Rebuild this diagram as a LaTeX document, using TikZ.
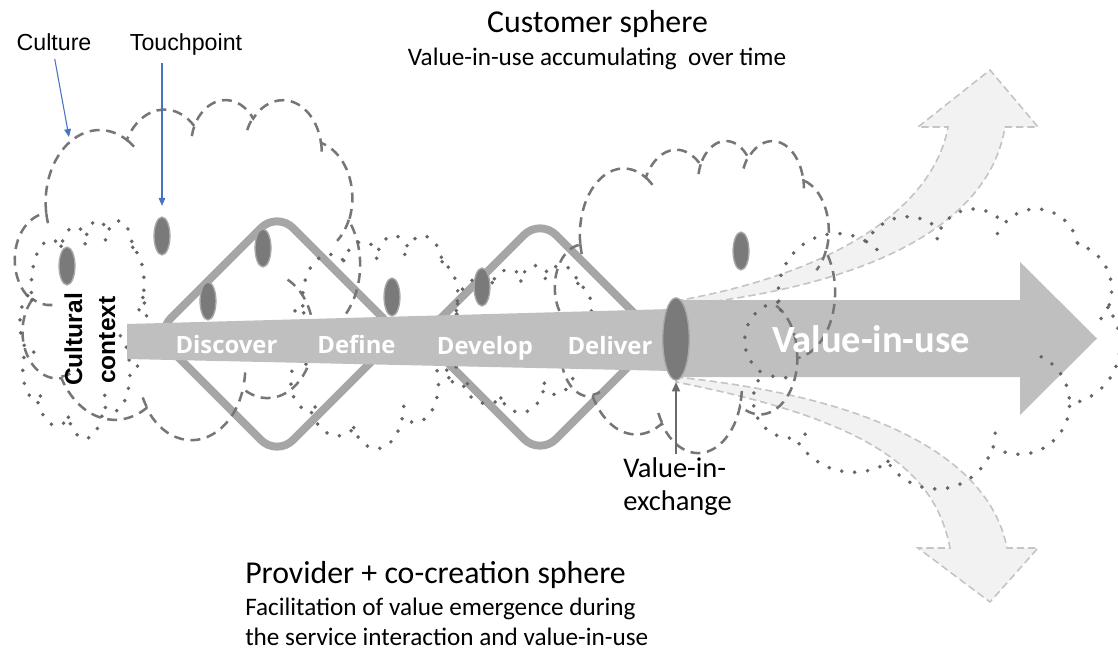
\documentclass[tikz,border=0pt]{standalone}
\usepackage{fontspec}
\setmainfont{Carlito}
\newfontfamily\arialfont{Liberation Sans}
\newfontfamily\stepfont{Open Sans}
\usetikzlibrary{arrows.meta,shapes.geometric}

\definecolor{barfill}{HTML}{BFBFBF}
\definecolor{fanfill}{HTML}{F2F2F2}
\definecolor{fanedge}{HTML}{C4C4C4}
\definecolor{diamgray}{HTML}{A6A6A6}
\definecolor{cloudgray}{HTML}{767676}
\definecolor{dotgray}{HTML}{666666}
\definecolor{tpfill}{HTML}{7A7A7A}
\definecolor{tpedge}{HTML}{A8A8A8}
\definecolor{bluearrow}{HTML}{4472C4}
\definecolor{vixgray}{HTML}{6A6A6A}

% Cloud outline in a 100 x 100 box: eleven elliptic lobes
\newcommand\cloudoutline{(9.028,33.264)
  arc[start angle=172.25,delta angle=128.12,x radius=15.632,y radius=21.273]
  arc[start angle=-152.03,delta angle=106.57,x radius=12.345,y radius=16.822]
  arc[start angle=-153.49,delta angle=116.17,x radius=10.104,y radius=13.762]
  arc[start angle=-139.71,delta angle=129.50,x radius=11.243,y radius=15.266]
  arc[start angle=-74.77,delta angle=97.98,x radius=12.345,y radius=16.836]
  arc[start angle=-37.53,delta angle=119.39,x radius=15.683,y radius=21.343]
  arc[start angle=0.46,delta angle=121.52,x radius=13.391,y radius=18.211]
  arc[start angle=16.85,delta angle=129.38,x radius=15.630,y radius=21.331]
  arc[start angle=58.99,delta angle=91.19,x radius=17.870,y radius=24.405]
  arc[start angle=83.31,delta angle=139.80,x radius=10.093,y radius=13.699]
  arc[start angle=120.36,delta angle=143.75,x radius=10.058,y radius=13.762]
  -- cycle}
% Short inner arcs where neighbouring lobes meet
\newcommand\cloudinner{
  (10.863,60.595) arc[start angle=85.55,delta angle=34.81,x radius=10.058,y radius=13.762]
  (16.037,80.785) arc[start angle=68.24,delta angle=15.06,x radius=10.093,y radius=13.699]
  (38.144,90.486) arc[start angle=146.23,delta angle=12.24,x radius=15.630,y radius=21.331]
  (66.729,80.442) arc[start angle=4.74,delta angle=12.11,x radius=15.630,y radius=21.331]
  (79.002,53.134) arc[start angle=-64.03,delta angle=64.49,x radius=13.391,y radius=18.211]
  (96.755,35.542) arc[start angle=23.21,delta angle=26.42,x radius=12.345,y radius=16.836]
  (88.713,12.560) arc[start angle=-10.21,delta angle=11.03,x radius=11.243,y radius=15.266]
  (67.310,9.148) arc[start angle=-156.28,delta angle=16.57,x radius=11.243,y radius=15.266]
  (51.252,10.926) arc[start angle=-167.73,delta angle=14.24,x radius=10.104,y radius=13.762]
  (32.407,12.019) arc[start angle=-59.63,delta angle=13.88,x radius=15.632,y radius=21.273]
  (9.553,36.549) arc[start angle=163.19,delta angle=9.06,x radius=15.632,y radius=21.273]}
% #1 style, #2 #3 top left corner, #4 #5 hundredth of width / height in cm
\newcommand\drawcloud[5]{%
  \begin{scope}[shift={(#2,#3)},x=#4cm,y=-#5cm]
    \draw[#1] \cloudoutline;
    \draw[#1] \cloudinner;
  \end{scope}}

\begin{document}
\begin{tikzpicture}[x=0.0265cm,y=-0.0265cm,
  dashcloud/.style={draw=cloudgray,line width=1.9pt,dash pattern=on 7.5pt off 5pt},
  dotcloud/.style={draw=dotgray,line width=3pt,line cap=round,dash pattern=on 0pt off 9.8pt},
  diamondline/.style={draw=diamgray,line width=6pt,rounded corners=17pt},
  fan/.style={fill=fanfill,draw=fanedge,line width=1.2pt,dash pattern=on 5.5pt off 3pt},
  tpoint/.style={ellipse,fill=tpfill,draw=tpedge,line width=1pt,minimum width=12pt,minimum height=28.5pt,inner sep=0pt},
  bluearr/.style={draw=bluearrow,line width=0.8pt,-{Triangle[width=5pt,length=6pt]}},
  vixarr/.style={draw=vixgray,line width=1.4pt,-{Triangle[width=6pt,length=7pt]}},
  notelabel/.style={font={\arialfont\fontsize{17.5}{20}\selectfont},anchor=base},
  stagelabel/.style={font={\stepfont\bfseries\fontsize{18}{21}\selectfont},text=white,anchor=base,inner sep=0pt},
  ctxlabel/.style={font={\arialfont\bfseries\fontsize{18.5}{22}\selectfont},rotate=90,anchor=base west,inner sep=0pt},
  headline/.style={font={\fontsize{24}{29}\selectfont},inner sep=0pt},
  subline/.style={font={\fontsize{19}{23}\selectfont},inner sep=0pt}]
\useasboundingbox (0,0) rectangle (1118,660);

% value-in-use spreading up and down
\path[fan] (676,301) .. controls (850,270) and (935,200) .. (948,127)
  -- (918,127) -- (990,70) -- (1038,127) -- (1005,127)
  .. controls (990,220) and (880,285) .. (676,306) -- cycle;
\path[fan] (676,377) .. controls (880,398) and (990,460) .. (1007,548)
  -- (1038,548) -- (990,602) -- (918,548) -- (950,548)
  .. controls (935,470) and (870,420) .. (676,382) -- cycle;

% value-in-use arrow
\fill[barfill] (676,300) -- (1020,300) -- (1020,262) -- (1097,338.5)
  -- (1020,415) -- (1020,377) -- (676,377) -- cycle;

% double diamond
\draw[diamondline] (155,334) -- (277,212) -- (399,334) -- (277,456) -- cycle;
\draw[diamondline] (422,337) -- (540,219) -- (658,337) -- (540,455) -- cycle;

% culture and context clouds
\drawcloud{dashcloud}{15}{99}{0.091425}{0.0901}
\drawcloud{dashcloud}{555}{140}{0.0742}{0.08268}
\drawcloud{dotcloud}{20}{220}{0.033655}{0.05777}
\drawcloud{dotcloud}{287}{235}{0.046375}{0.056445}
\drawcloud{dotcloud}{443}{265}{0.04028}{0.038955}
\drawcloud{dotcloud}{745}{208}{0.099375}{0.0742}

% service process bar
\fill[barfill] (127,324) -- (672,309) -- (672,371) -- (127,359) -- cycle;

% touchpoints
\node[tpoint] (tp1) at (67,266) {};
\node[tpoint] (tp2) at (162,236) {};
\node[tpoint] (tp3) at (263,248) {};
\node[tpoint] (tp4) at (208,301) {};
\node[tpoint] (tp5) at (392,297) {};
\node[tpoint] (tp6) at (482,287) {};
\node[tpoint] (tp7) at (741,251) {};
\node[tpoint,minimum width=20pt,minimum height=62pt] (vix) at (676,339) {};

% stage labels
\node[stagelabel] (discover) at (226.5,353) {Discover};
\node[stagelabel] (define) at (356.5,353) {Define};
\node[stagelabel] (develop) at (485,354) {Develop};
\node[stagelabel] (deliver) at (610,354) {Deliver};
\node[font={\bfseries\fontsize{29}{34}\selectfont},text=white,anchor=base,inner sep=0pt] (viu) at (871,352) {Value-in-use};

\node[ctxlabel] (ctxA) at (82,386) {Cultural};
\node[ctxlabel] (ctxB) at (115,384) {context};

% annotations
\node[notelabel] (culture) at (54,50) {Culture};
\node[notelabel] (touch) at (186,50) {Touchpoint};
\coordinate (cultTip) at (69,137);
\draw[bluearr,shorten <=3pt] (culture.south) -- (cultTip);
\draw[bluearr,shorten <=3pt,shorten >=8pt] (touch.south -| tp2.north) -- (tp2.north);

\node[headline,anchor=base] (custsphere) at (597.5,33) {Customer sphere};
\node[subline,anchor=base] (custsub) at (597,65) {Value-in-use accumulating\ \ over time};

\node[headline,anchor=base west] (provsphere) at (245,583) {Provider + co-creation sphere};
\node[subline,anchor=base west] (provsubA) at (245,615) {Facilitation of value emergence during};
\node[subline,anchor=base west] (provsubB) at (245,645) {the service interaction and value-in-use};

\node[font={\fontsize{21.5}{26}\selectfont},anchor=base west,inner sep=0pt] (vieA) at (623,477) {Value-in-};
\node[font={\fontsize{21.5}{26}\selectfont},anchor=base west,inner sep=0pt] (vieB) at (623,510) {exchange};
\draw[vixarr,shorten <=2pt,shorten >=1pt] (vieA.north -| vix.south) -- (vix.south);
\end{tikzpicture}
\end{document}
